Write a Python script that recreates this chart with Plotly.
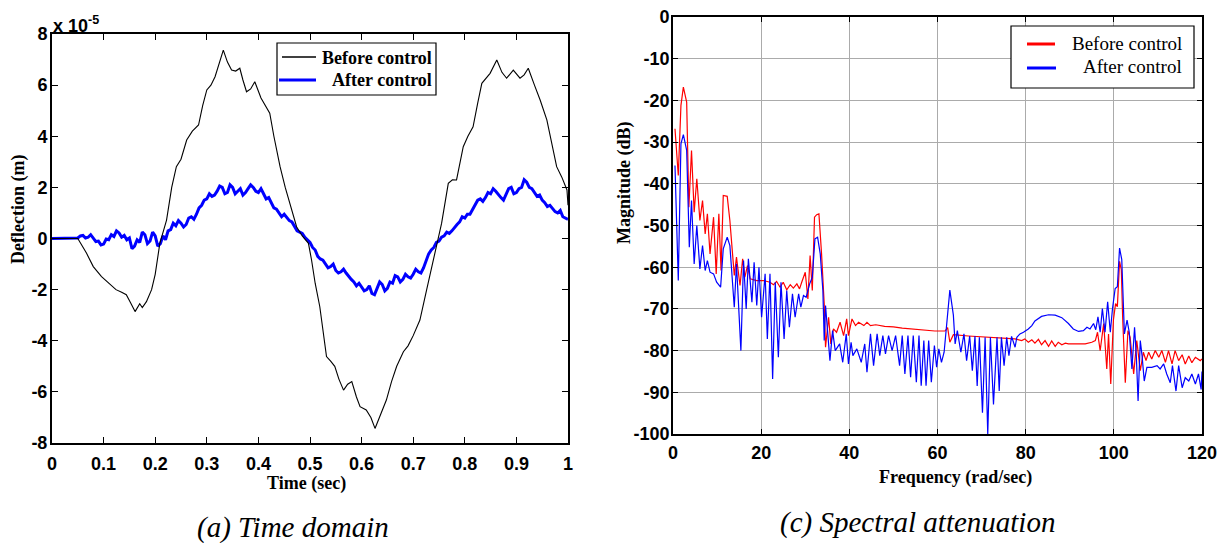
import numpy as np
import plotly.graph_objects as go

# ---------------- data: (a) time domain (deflection in units of 1e-5 m) ----------------
t_before = [0, 0.05, 0.067, 0.08, 0.096, 0.11, 0.124, 0.135, 0.144, 0.152,
            0.161, 0.17, 0.175, 0.183, 0.193, 0.2, 0.209, 0.222, 0.232, 0.241,
            0.25, 0.261, 0.272, 0.284, 0.292, 0.3, 0.308, 0.316, 0.325, 0.332,
            0.34, 0.348, 0.356, 0.364, 0.37, 0.377, 0.385, 0.393, 0.405, 0.414,
            0.422, 0.43, 0.442, 0.452, 0.461, 0.474, 0.485, 0.497, 0.503, 0.51,
            0.519, 0.526, 0.532, 0.54, 0.548, 0.556, 0.565, 0.573, 0.581, 0.59,
            0.597, 0.609, 0.618, 0.626, 0.637, 0.648, 0.658, 0.668, 0.681, 0.69,
            0.7, 0.713, 0.726, 0.735, 0.742, 0.755, 0.768, 0.776, 0.784, 0.797,
            0.806, 0.816, 0.825, 0.833, 0.849, 0.862, 0.872, 0.881, 0.894, 0.907,
            0.915, 0.923, 0.935, 0.946, 0.959, 0.968, 0.978, 0.988, 0.998, 1.0]
v_before = [0, 0, -0.58, -1.1, -1.49, -1.75, -2.0, -2.1, -2.2, -2.5,
            -2.86, -2.55, -2.7, -2.47, -2.0, -1.4, -0.19, 0.72, 2.0, 2.81,
            3.1, 3.85, 4.2, 4.44, 5.2, 5.81, 6.0, 6.33, 6.9, 7.37,
            6.9, 6.59, 6.55, 6.66, 6.2, 5.74, 5.85, 6.13, 5.5, 5.2,
            4.9, 4.0, 2.81, 2.0, 1.38, 0.46, 0.1, -0.19, -0.84, -1.75,
            -2.67, -3.8, -4.62, -4.8, -5.0, -5.5, -5.93, -5.7, -5.6, -6.2,
            -6.58, -6.71, -7.0, -7.43, -6.9, -6.32, -5.6, -5.0, -4.43, -4.2,
            -3.8, -3.19, -2.01, -1.2, -0.45, 0.59, 2.16, 2.3, 2.29, 3.59,
            4.0, 4.37, 5.3, 6.07, 6.46, 6.98, 6.5, 6.27, 6.59, 6.27,
            6.4, 6.66, 6.0, 5.42, 4.64, 3.7, 2.81, 2.4, 1.9, 1.3]

t_after = np.round(np.arange(201) * 0.005, 3)
v_after = [0, 0, 0, 0, 0, 0, 0, 0, 0, 0,
           0.02, 0.1, 0.12, 0.02, 0.05, 0.15, 0.02, -0.12, -0.1, -0.25,
           -0.22, -0.02, -0.05, 0.15, 0.08, 0.3, 0.22, 0.05, 0.12, -0.05,
           0.02, -0.4, -0.3, -0.05, -0.15, 0.25, 0.15, -0.2, -0.1, 0.25,
           0.1, -0.3, -0.2, 0.1, -0.05, 0.3, 0.35, 0.6, 0.5, 0.7,
           0.6, 0.45, 0.55, 0.8, 0.85, 0.75, 0.95, 1.2, 1.3, 1.5,
           1.55, 1.75, 1.65, 1.7, 1.85, 2.05, 2.0, 1.75, 1.8, 2.1,
           2.0, 1.75, 1.85, 1.95, 1.7, 1.8, 1.95, 2.1, 2.0, 1.85,
           1.8, 1.95, 1.75, 1.55, 1.6, 1.4, 1.2, 1.15, 1.0, 0.85,
           0.95, 0.8, 0.7, 0.65, 0.5, 0.3, 0.25, 0.2, 0.05, -0.05,
           -0.15, -0.35, -0.45, -0.7, -0.8, -0.85, -1.0, -1.15, -1.1, -1.0,
           -1.25, -1.35, -1.3, -1.2, -1.35, -1.5, -1.6, -1.7, -1.85, -1.75,
           -1.9, -2.05, -2.0, -1.85, -2.15, -2.2, -1.95, -1.7, -1.8, -2.05,
           -1.95, -1.7, -1.75, -1.45, -1.5, -1.7, -1.6, -1.4, -1.5, -1.55,
           -1.4, -1.2, -1.3, -1.35, -1.15, -0.85, -0.6, -0.45, -0.35, -0.15,
           -0.1, 0.05, 0.1, 0.25, 0.2, 0.3, 0.45, 0.55, 0.65, 0.85,
           0.8, 0.95, 0.95, 1.15, 1.3, 1.5, 1.55, 1.45, 1.6, 1.8,
           1.75, 1.95, 1.85, 1.7, 1.6, 1.5, 1.75, 1.95, 2.0, 1.75,
           1.8, 1.95, 2.0, 2.3, 2.2, 2.0, 1.95, 1.8, 1.65, 1.7,
           1.5, 1.4, 1.25, 1.3, 1.15, 1.05, 1.0, 1.1, 0.85, 0.8,
           0.75]

# ---------------- data: (c) spectral attenuation ----------------
f_before = [0.45, 1.2, 1.8, 2.35, 3.1, 3.6, 4.2, 4.8, 5.4, 6.1,
            6.7, 7.3, 7.8, 8.4, 9.2, 9.8, 10.4, 10.9, 11.4, 12.3,
            12.9, 13.9, 14.4, 15.2, 15.8, 16.3, 16.9, 17.5, 19, 20.5,
            22, 22.8, 23.5, 24.3, 25, 25.8, 26.6, 27.3, 28.1, 28.7,
            29.2, 30, 30.6, 31.1, 31.6, 32.1, 32.6, 33.1, 33.7, 34.3,
            34.6, 35.3, 35.8, 36.4, 37.1, 37.9, 38.7, 39.4, 39.8, 40.6,
            41.4, 42.1, 43.3, 44, 44.8, 46, 48, 50, 52, 54,
            56, 58, 59.4, 61.7, 62.3, 62.8, 63.6, 67, 70.8, 74.5,
            77.6, 79.1, 79.8, 80.6, 81.4, 82.1, 82.9, 83.6, 84.4, 85.2,
            85.9, 86.7, 87.4, 88.2, 89, 89.7, 91.2, 93.5, 95, 95.8,
            96.3, 96.9, 97.7, 98.4, 98.8, 99.3, 99.9, 100.4, 100.8, 101.3,
            101.7, 102, 102.6, 103.2, 103.7, 104.5, 105.2, 106, 106.7, 107.3,
            107.9, 108.6, 109.4, 110.2, 110.9, 111.7, 112.4, 113.2, 113.9, 114.7,
            115.5, 116.2, 117, 117.7, 118.5, 119.6, 120]
db_before = [-26.8, -38, -21.2, -16.8, -20.4, -45.6, -32, -46.8, -38.8, -48.8,
             -44, -52, -47.2, -56.8, -48, -61.6, -47.2, -60.8, -42.8, -43,
             -48.8, -62, -57.6, -64.4, -58, -62.4, -59.6, -62.8, -63.2, -63.2,
             -63.6, -64.2, -63.4, -64.8, -63.6, -65.4, -64.2, -65, -64, -65.2,
             -63.6, -61.2, -67.6, -57.2, -65.6, -48, -47.4, -47.2, -56.8, -68.8,
             -79.2, -72, -78.4, -74.8, -75.6, -73.2, -76.4, -72.4, -76.4, -72.4,
             -74, -73.2, -74, -73.2, -74, -73.8, -74.2, -74.3, -74.6, -74.8,
             -75, -75.1, -75.3, -75.3, -74.5, -78, -76.2, -76.5, -76.8, -77,
             -77.2, -77.6, -77.2, -78, -77.4, -78.2, -77.3, -78.6, -77.6, -79,
             -77.7, -79, -78, -78.6, -78.2, -78.4, -78.4, -78.4, -78, -77.6,
             -75.6, -80, -73.5, -84.4, -76, -88, -72.7, -68.7, -69.5, -58.6,
             -60.6, -72, -87.7, -75.2, -76.8, -85.6, -77.6, -84.8, -80.4, -82.4,
             -80.4, -82, -80, -81.6, -80, -82.8, -80, -83.2, -80, -82.4,
             -81, -83.2, -81.3, -82.9, -81.6, -82.4, -82]

f_after = [0.45, 1.2, 1.8, 2.35, 3.1, 3.7, 4.2, 4.8, 5.4, 6.1,
           6.7, 7.3, 7.8, 8.4, 9.2, 9.9, 10.8, 11.4, 12.3, 12.9,
           13.9, 14.4, 15.4, 16, 16.6, 17.1, 17.9, 18.4, 19, 19.5,
           20.1, 20.9, 21.4, 22, 22.6, 23.2, 23.9, 24.5, 25.2, 25.8,
           26.4, 27.1, 27.7, 28.5, 29, 29.6, 30.2, 31, 31.6, 32.2,
           32.8, 33.4, 34, 34.3, 34.6, 35.1, 35.6, 36.2, 36.8, 37.8,
           38.5, 39.3, 39.8, 40.4, 40.8, 41.7, 42.7, 43.5, 44, 44.8,
           45.5, 46.3, 46.9, 47.6, 48.2, 48.9, 49.7, 50.5, 51.4, 52,
           52.6, 53.3, 53.9, 54.5, 55.2, 55.8, 56.3, 56.9, 57.4, 58,
           58.6, 59.3, 59.8, 60.3, 60.9, 61.5, 62.1, 62.8, 63.6, 64,
           64.5, 65.3, 66, 66.6, 67.3, 67.9, 68.5, 69, 69.5, 70.2,
           70.8, 71.4, 72, 72.7, 73.5, 74, 74.5, 75.1, 75.7, 76.2,
           76.8, 77.6, 78, 78.7, 79.5, 80.6, 81.4, 82.1, 83.6, 85.2,
           86.7, 88.2, 89.7, 90.8, 92, 93.1, 93.9, 94.6, 95.4, 95.9,
           96.4, 96.9, 97.4, 98, 98.6, 99.2, 99.7, 100.3, 100.8, 101.3,
           101.8, 102.4, 103, 103.5, 104.1, 104.7, 105.1, 105.5, 106, 106.4,
           106.9, 107.5, 108.6, 109.8, 110.5, 111.3, 112, 112.8, 113.3, 114.1,
           114.7, 115.5, 116.2, 117, 117.7, 118.5, 119.2, 119.8, 120]
db_after = [-35.6, -63.2, -30.4, -28.2, -32, -55.2, -44, -59.2, -50, -60.4,
            -54.8, -60.8, -58.4, -61.2, -61.6, -63.6, -64.8, -55.6, -52.8, -54.8,
            -69.6, -59.2, -80, -58.4, -70, -58, -68.4, -58.8, -69.2, -60,
            -72, -61.6, -77.2, -61.6, -86.8, -63.6, -81.6, -63.6, -77.2, -65.6,
            -74.4, -66.4, -72, -66.4, -69.6, -66.8, -67.2, -64, -62.4, -53.2,
            -52.8, -56.8, -65.6, -77.6, -69.2, -76.8, -82.4, -75.2, -80, -78.4,
            -82.8, -76, -83.2, -78, -81.2, -79.6, -82.8, -78.4, -85.2, -76,
            -83.6, -76, -81.2, -76.4, -80.8, -76.4, -80, -76.4, -83.6, -76.4,
            -85.6, -76.4, -86.4, -76.4, -87.6, -76.4, -88.4, -77.6, -88.4, -77.6,
            -87.6, -78.8, -84, -79.6, -82.8, -80.4, -73.5, -65.5, -71.5, -78.4,
            -75.2, -80.4, -76, -82.4, -76.5, -84.8, -76.5, -88.5, -76.8, -94.9,
            -76.8, -100, -76.8, -92.9, -76.8, -89.7, -76.8, -83.6, -76.8, -81.2,
            -76.6, -79.2, -76.8, -76, -75.6, -74.8, -74, -72.9, -71.8, -71.4,
            -71.5, -72.1, -73.5, -74.8, -75.4, -75.2, -74.4, -74.8, -73.5, -75,
            -71.9, -75.6, -69.9, -75.6, -68.3, -75.6, -69.9, -65.1, -64.7, -55.4,
            -58.2, -76, -72.7, -75.6, -84.4, -74.4, -81.2, -92.1, -77.6, -81.2,
            -87.3, -84, -84, -83.6, -84.4, -83.2, -85.6, -87.7, -83.6, -89.7,
            -83.6, -88.9, -86.5, -87.3, -85.6, -88, -85.6, -89.3, -85]

time_ticks = [0, 0.1, 0.2, 0.3, 0.4, 0.5, 0.6, 0.7, 0.8, 0.9, 1]
time_tick_text = ["0", "0.1", "0.2", "0.3", "0.4", "0.5", "0.6", "0.7", "0.8", "0.9", "1"]
defl_ticks = [-8, -6, -4, -2, 0, 2, 4, 6, 8]
defl_tick_text = ["-8", "-6", "-4", "-2", "0", "2", "4", "6", "8"]
freq_ticks = [0, 20, 40, 60, 80, 100, 120]
freq_tick_text = ["0", "20", "40", "60", "80", "100", "120"]
mag_ticks = [0, -10, -20, -30, -40, -50, -60, -70, -80, -90, -100]
mag_tick_text = ["0", "-10", "-20", "-30", "-40", "-50", "-60", "-70", "-80", "-90", "-100"]

assert len(t_before) == len(v_before)
assert len(t_after) == len(v_after)
assert len(f_before) == len(db_before)
assert len(f_after) == len(db_after)

# ---------------- layout helpers (target pixel -> paper fraction) ----------------
W, H = 1231, 543
def px(x):
    return x / W
def py(y):
    return 1 - y / H

SANS = "Liberation Sans"
SERIF = "Liberation Serif"

def bold(labels):
    return ["<b>%s</b>" % s for s in labels]

fig = go.Figure()
fig.add_trace(go.Scatter(x=t_after, y=v_after, mode="lines", xaxis="x", yaxis="y",
                         line=dict(color="#0000ff", width=3.0), name="After control"))
fig.add_trace(go.Scatter(x=t_before, y=v_before, mode="lines", xaxis="x", yaxis="y",
                         line=dict(color="black", width=1.1), name="Before control"))
fig.add_trace(go.Scatter(x=f_before, y=db_before, mode="lines", xaxis="x2", yaxis="y2",
                         line=dict(color="#ff0000", width=1.2), name="Before control"))
fig.add_trace(go.Scatter(x=f_after, y=db_after, mode="lines", xaxis="x2", yaxis="y2",
                         line=dict(color="#0000ff", width=1.2), name="After control"))

tickfont = dict(family=SANS, size=18, color="black")
common = dict(showline=True, linecolor="black", mirror="ticks", ticks="inside",
              tickcolor="black", zeroline=False, tickfont=tickfont, tickmode="array",
              automargin=False)

fig.update_layout(
    width=W, height=H, autosize=False, margin=dict(l=0, r=0, t=0, b=0, pad=0, autoexpand=False),
    paper_bgcolor="white", plot_bgcolor="white", showlegend=False,
    xaxis=dict(domain=[px(52), px(568)], range=[0, 1], anchor="y",
               tickvals=time_ticks, ticktext=bold(time_tick_text), showgrid=False,
               linewidth=2, ticklen=6, tickwidth=1, ticklabelstandoff=3, **common),
    yaxis=dict(domain=[py(443), py(34)], range=[-8, 8], anchor="x",
               tickvals=defl_ticks, ticktext=bold(defl_tick_text), showgrid=False,
               linewidth=2, ticklen=6, tickwidth=1, ticklabelstandoff=-1, **common),
    xaxis2=dict(domain=[px(673), px(1202)], range=[0, 120], anchor="y2",
                tickvals=freq_ticks, ticktext=bold(freq_tick_text),
                showgrid=True, gridcolor="#ababab", gridwidth=1,
                linewidth=1.6, ticklen=5, tickwidth=1, ticklabelstandoff=2, **common),
    yaxis2=dict(domain=[py(434), py(17)], range=[-100, 0], anchor="x2",
                tickvals=mag_ticks, ticktext=bold(mag_tick_text),
                showgrid=True, gridcolor="#ababab", gridwidth=1,
                linewidth=1.6, ticklen=5, tickwidth=1, ticklabelstandoff=-2, **common),
)

ann = []
def add_text(text, x, y, font, angle=0, xanchor="center", yanchor="middle"):
    ann.append(dict(text=text, x=px(x), y=py(y), xref="paper", yref="paper",
                    showarrow=False, font=font, textangle=angle,
                    xanchor=xanchor, yanchor=yanchor))

title_font = dict(family=SERIF, size=18, color="black")
add_text("<b>x 10<sup>-5</sup></b>", 51, 38, dict(family=SANS, size=18, color="black"),
         xanchor="left", yanchor="bottom")
add_text("<b>Deflection (m)</b>", 18, 210, title_font, angle=-90)
add_text("<b>Time (sec)</b>", 306, 483, title_font)
add_text("<b>Magnitude (dB)</b>", 624, 183, title_font, angle=-90)
add_text("<b>Frequency (rad/sec)</b>", 955, 477, title_font)
cap_font = dict(family=SERIF, size=29, color="black")
add_text("<i>(a) Time domain</i>", 293, 527, cap_font)
add_text("<i>(c) Spectral attenuation</i>", 917, 522, cap_font)

# legends drawn manually (right-aligned labels like the original)
leg1_font = dict(family=SERIF, size=18, color="black")
add_text("<b>Before control</b>", 434, 58, leg1_font, xanchor="right")
add_text("<b>After control</b>", 434, 80, leg1_font, xanchor="right")
leg2_font = dict(family=SERIF, size=19, color="black")
add_text("Before control", 1184, 43, leg2_font, xanchor="right")
add_text("After control", 1184, 66, leg2_font, xanchor="right")
fig.update_layout(annotations=ann)

shapes = [
    dict(type="rect", xref="paper", yref="paper", x0=px(277), x1=px(436), y0=py(95), y1=py(43),
         line=dict(color="black", width=1.2), fillcolor="white", layer="above"),
    dict(type="line", xref="paper", yref="paper", x0=px(282), x1=px(316), y0=py(57), y1=py(57),
         line=dict(color="black", width=1.5), layer="above"),
    dict(type="line", xref="paper", yref="paper", x0=px(279), x1=px(316), y0=py(80), y1=py(80),
         line=dict(color="#0000ff", width=3), layer="above"),
    dict(type="rect", xref="paper", yref="paper", x0=px(1011), x1=px(1194), y0=py(88), y1=py(26),
         line=dict(color="black", width=1.2), fillcolor="white", layer="above"),
    dict(type="line", xref="paper", yref="paper", x0=px(1027), x1=px(1055), y0=py(44), y1=py(44),
         line=dict(color="#ff0000", width=3), layer="above"),
    dict(type="line", xref="paper", yref="paper", x0=px(1027), x1=px(1056), y0=py(68), y1=py(68),
         line=dict(color="#0000ff", width=3), layer="above"),
]
fig.update_layout(shapes=shapes)

fig.write_html(
    "out.html",
    config={"responsive": False},
    post_script="document.body.style.margin='0px';document.body.style.overflow='hidden';",
)
